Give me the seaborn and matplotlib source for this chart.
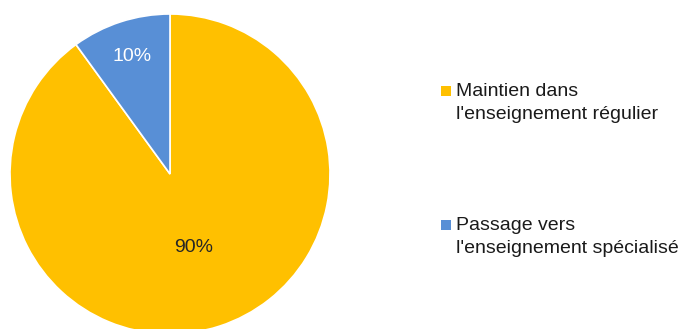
import matplotlib
matplotlib.use("Agg")
import matplotlib.pyplot as plt
import seaborn as sns
import numpy as np
from matplotlib.patches import Rectangle

sns.set_theme(style="white")
plt.rcParams['font.family'] = ['Liberation Sans', 'DejaVu Sans']

categories = ["Maintien dans\nl'enseignement régulier", "Passage vers\nl'enseignement spécialisé"]
values = [90, 10]
pct_labels = ["90%", "10%"]
colors = ["#FFC000", "#588FD6"]
label_colors = ["#262626", "#FFFFFF"]
label_dist = [0.48, 0.775]

W, H = 682, 329
fig = plt.figure(figsize=(W / 100, H / 100), dpi=100)
fig.patch.set_facecolor("white")

cx, cy, r = 170, 174, 160
ax = fig.add_axes([(cx - r) / W, (H - cy - r) / H, 2 * r / W, 2 * r / H])
wedges, _ = ax.pie(values, colors=colors, startangle=90, counterclock=False,
                   wedgeprops=dict(edgecolor="white", linewidth=1.2))
ax.set_xlim(-1, 1)
ax.set_ylim(-1, 1)
ax.set_aspect("equal")
ax.axis("off")

for w, lab, col, d in zip(wedges, pct_labels, label_colors, label_dist):
    ang = np.deg2rad((w.theta1 + w.theta2) / 2)
    ax.text(d * np.cos(ang), d * np.sin(ang), lab, ha="center", va="center",
            fontsize=14, color=col)

# legend
legend_y_marker = [91, 225]
legend_y_text = [103, 237]
for cat, col, ym, yt in zip(categories, colors, legend_y_marker, legend_y_text):
    fig.patches.append(Rectangle((441 / W, (H - ym - 5) / H), 10 / W, 10 / H,
                                 transform=fig.transFigure, facecolor=col,
                                 edgecolor="none"))
    fig.text(456 / W, (H - yt) / H, cat, ha="left", va="center", fontsize=14,
             color="#1a1a1a", linespacing=1.5)

fig.savefig("out.png", dpi=100)
